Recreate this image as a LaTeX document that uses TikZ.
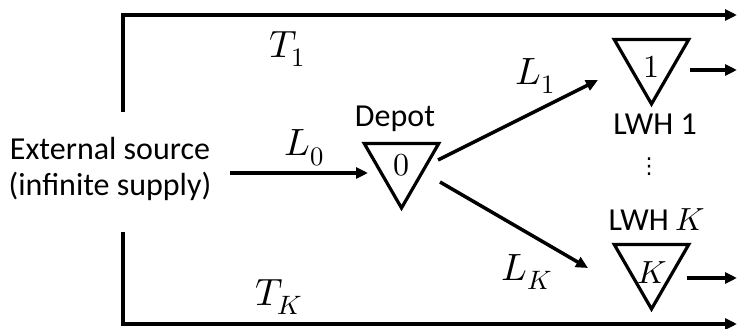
\documentclass[tikz,border=0pt]{standalone}
\usepackage{fontspec}
\usepackage{unicode-math}
\setmainfont{Carlito}
\newfontfamily\dejavu{DejaVu Sans}
\usetikzlibrary{arrows.meta,shapes.geometric}
\begin{document}
\begin{tikzpicture}[x=1pt,y=-1pt,line width=3.5pt,
  arr/.style={-{Triangle[length=12pt,width=11pt]}},
  tri/.style={draw,regular polygon,regular polygon sides=3,shape border rotate=180,
    minimum size=86pt,inner sep=0pt,line width=3.2pt},
  txt/.style={font=\fontsize{32}{36}\selectfont,inner sep=0pt},
  mth/.style={font=\fontsize{38}{44}\selectfont,inner sep=0pt},
  inmth/.style={font=\fontsize{32}{38}\selectfont,inner sep=0pt}]
\useasboundingbox (0,0) rectangle (737,329);
% source
\node[txt,align=center] (src) at (110,169) {External source\\(infinite supply)};
% depot
\node[tri,inmth] (dep) at (401.5,165) {$0$};
\node[txt,anchor=base] (deplab) at (395,127) {Depot};
% local warehouses
\node[tri] (w1) at (651.5,61) {};
\node[inmth] (w1n) at (651.5,67) {$1$};
\node[txt,anchor=base] (w1lab) at (655,135) {LWH 1};
\node[font=\dejavu\fontsize{22}{26}\selectfont,inner sep=0pt] (dots) at (649,167) {⋮};
\node[txt,anchor=base] (wKlab) at (657,230) {LWH $K$};
\node[tri] (wK) at (651.5,266) {};
\node[inmth] (wKn) at (652,273) {$K$};
% labels
\node[mth] (T1) at (287,49) {$T_1$};
\node[mth] (TK) at (279,297) {$T_K$};
\node[mth] (L0) at (304,148) {$L_0$};
\node[mth] (L1) at (535,76) {$L_1$};
\node[mth] (LK) at (527,272) {$L_K$};
% coordinates
\coordinate (t1s) at (123,112);
\coordinate (t1e) at (737,15);
\coordinate (tKs) at (123,232);
\coordinate (tKe) at (737,324);
\coordinate (l0s) at (230,173);
\coordinate (l0e) at (368,173);
\coordinate (l1s) at (438,160);
\coordinate (l1e) at (598,80);
\coordinate (lKs) at (440,182);
\coordinate (lKe) at (588,268);
\coordinate (o1s) at (690,70);
\coordinate (o1e) at (737,70);
\coordinate (oKs) at (687,278);
\coordinate (oKe) at (737,278);
% connectors
\draw[arr] (t1s) |- (t1e);
\draw[arr] (tKs) |- (tKe);
\draw[arr] (l0s) -- (l0e);
\draw[arr] (l1s) -- (l1e);
\draw[arr] (lKs) -- (lKe);
\draw[arr] (o1s) -- (o1e);
\draw[arr] (oKs) -- (oKe);
\end{tikzpicture}
\end{document}
